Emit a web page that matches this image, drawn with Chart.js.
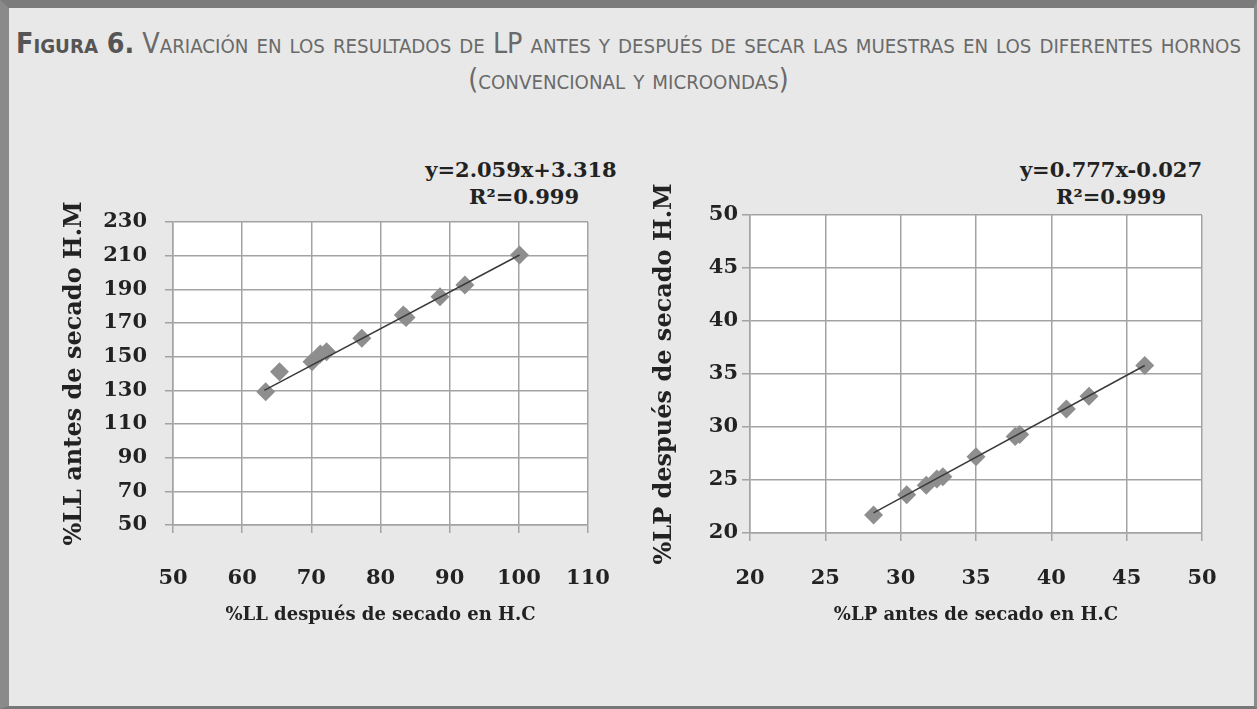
<!DOCTYPE html>
<html>
<head>
<meta charset="utf-8">
<script src="https://cdn.jsdelivr.net/npm/chart.js@4.4.0/dist/chart.umd.min.js"></script>
<style>
  html, body { margin: 0; padding: 0; }
  body {
    width: 1257px; height: 709px; position: relative; overflow: hidden;
    background: #e7e8e7;
  }
  #frame {
    position: absolute; left: 0; top: 0; width: 1257px; height: 709px;
    box-sizing: border-box;
    border-top: 8px solid #7b7b7b;
    border-left: 9px solid #8a8a8a;
    border-right: 3px solid #8a8a8a;
    border-bottom: 3px solid #777;
  }
  .title {
    position: absolute; left: 0; width: 1257px; text-align: center;
    font-family: "DejaVu Sans Condensed", "DejaVu Sans", sans-serif;
    font-variant: small-caps; color: #6a6a6a; font-size: 28px;
    white-space: nowrap; transform-origin: 50% 50%;
  }
  .title b { color: #555; }
  .eq {
    position: absolute; font-family: "DejaVu Serif", serif; font-weight: bold;
    font-size: 21px; color: #222; text-align: center; width: 260px;
  }
  canvas { position: absolute; }
</style>
</head>
<body>
<div id="frame"></div>
<div class="title" id="t1" style="top:27px"><span>
  <b>Figura 6.</b> Variación en los resultados de LP antes y después de secar las muestras en los diferentes hornos
</span></div>
<div class="title" id="t2" style="top:63px"><span>(convencional y microondas)</span></div>

<div class="eq" style="left:391px; top:157px">y=2.059x+3.318</div>
<div class="eq" style="left:394px; top:184px">R²=0.999</div>
<div class="eq" style="left:981px; top:157px">y=0.777x-0.027</div>
<div class="eq" style="left:981px; top:184px">R²=0.999</div>

<canvas id="chartLL" width="590" height="520" style="left:40px; top:130px"></canvas>
<canvas id="chartLP" width="610" height="520" style="left:630px; top:130px"></canvas>

<script>
// %LL: después de secado en H.C (x) vs antes de secado H.M (y)
const llX = [63.4, 65.4, 70.1, 71.3, 72.2, 77.3, 83.3, 83.7, 88.6, 92.2, 100.1];
const llY = [129.2, 141.0, 147.0, 151.6, 152.9, 160.9, 174.7, 173.2, 185.6, 192.6, 210.4];
const llTrendX = [63.2, 100.1];
const llTrendY = [130.0, 210.4];

// %LP: antes de secado en H.C (x) vs después de secado H.M (y)
const lpX = [28.2, 30.4, 31.7, 32.4, 32.8, 35.0, 37.6, 37.9, 41.0, 42.5, 46.2];
const lpY = [21.7, 23.6, 24.5, 25.1, 25.3, 27.2, 29.1, 29.3, 31.7, 32.9, 35.8];
const lpTrendX = [28.2, 46.2];
const lpTrendY = [21.9, 35.8];

const llXTicks = [50, 60, 70, 80, 90, 100, 110];
const llYTicks = [50, 70, 90, 110, 130, 150, 170, 190, 210, 230];
const lpXTicks = [20, 25, 30, 35, 40, 45, 50];
const lpYTicks = [20, 25, 30, 35, 40, 45, 50];

const serif = "DejaVu Serif";
const gridColor = "#a3a3a3";

// stretch the figure caption to the width used in the original
const t1span = document.querySelector("#t1 span");
const stretch = 1225 / t1span.getBoundingClientRect().width;
document.getElementById("t1").style.transform = "scaleX(" + stretch + ")";
document.getElementById("t2").style.transform = "scaleX(" + stretch + ")";

// paint the plot area white
const plotBg = {
  id: "plotBg",
  beforeDraw(chart) {
    const a = chart.chartArea;
    chart.ctx.save();
    chart.ctx.fillStyle = "#ffffff";
    chart.ctx.fillRect(a.left, a.top, a.right - a.left, a.bottom - a.top);
    chart.ctx.restore();
  },
};

function toPoints(xs, ys) {
  return xs.map((x, i) => ({ x: x, y: ys[i] }));
}

function makeChart(id, opts) {
  const ctx = document.getElementById(id).getContext("2d");
  return new Chart(ctx, {
    type: "scatter",
    data: {
      datasets: [
        {
          type: "line",
          data: toPoints(opts.trendX, opts.trendY),
          borderColor: "#3a3a3a",
          borderWidth: 1.5,
          pointRadius: 0,
          fill: false,
          order: 0,
        },
        {
          data: toPoints(opts.xs, opts.ys),
          pointStyle: "rectRot",
          pointRadius: 9.5,
          backgroundColor: "#8e8e8e",
          borderColor: "#8e8e8e",
          borderWidth: 0,
          order: 1,
        },
      ],
    },
    options: {
      responsive: false,
      animation: false,
      layout: { padding: { top: opts.padTop, right: opts.padRight, left: 0, bottom: 0 } },
      plugins: { legend: { display: false }, tooltip: { enabled: false } },
      scales: {
        x: {
          type: "linear",
          min: opts.xTicks[0],
          max: opts.xTicks[opts.xTicks.length - 1],
          afterBuildTicks: (s) => { s.ticks = opts.xTicks.map((v) => ({ value: v })); },
          afterFit: (s) => {
            s.height = opts.xHeight;
            s.paddingLeft = 0;
            s.paddingRight = 0;
          },
          grid: { color: gridColor, lineWidth: 1.5, tickLength: 8 },
          border: { color: gridColor, width: 1.5 },
          ticks: {
            padding: opts.xTickPad,
            color: "#222",
            font: { family: serif, weight: "bold", size: 21 },
          },
          title: {
            display: true,
            text: opts.xTitle,
            color: "#222",
            font: { family: serif, weight: "bold", size: 18 },
            padding: { top: 0, bottom: 24 },
          },
        },
        y: {
          type: "linear",
          min: opts.yTicks[0],
          max: opts.yTicks[opts.yTicks.length - 1],
          afterBuildTicks: (s) => { s.ticks = opts.yTicks.map((v) => ({ value: v })); },
          afterFit: (s) => {
            s.width = opts.yWidth;
            s.paddingTop = 0;
            s.paddingBottom = 0;
          },
          grid: { color: gridColor, lineWidth: 1.5, tickLength: 8 },
          border: { color: gridColor, width: 1.5 },
          ticks: {
            padding: opts.yTickPad,
            color: "#222",
            font: { family: serif, weight: "bold", size: 21 },
          },
          title: {
            display: true,
            text: opts.yTitle,
            color: "#222",
            font: { family: serif, weight: "bold", size: 24 },
            padding: { top: 20, bottom: 0 },
          },
        },
      },
    },
    plugins: [plotBg],
  });
}

makeChart("chartLL", {
  xs: llX, ys: llY, trendX: llTrendX, trendY: llTrendY,
  xTicks: llXTicks, yTicks: llYTicks,
  xTitle: "%LL después de secado en H.C",
  yTitle: "%LL antes de secado H.M",
  padTop: 92, padRight: 42, yWidth: 133, xHeight: 125,
  xTickPad: 33, yTickPad: 18,
});

makeChart("chartLP", {
  xs: lpX, ys: lpY, trendX: lpTrendX, trendY: lpTrendY,
  xTicks: lpXTicks, yTicks: lpYTicks,
  xTitle: "%LP antes de secado en H.C",
  yTitle: "%LP después de secado H.M",
  padTop: 85, padRight: 38, yWidth: 120, xHeight: 117,
  xTickPad: 25, yTickPad: 4,
});
</script>
</body>
</html>
